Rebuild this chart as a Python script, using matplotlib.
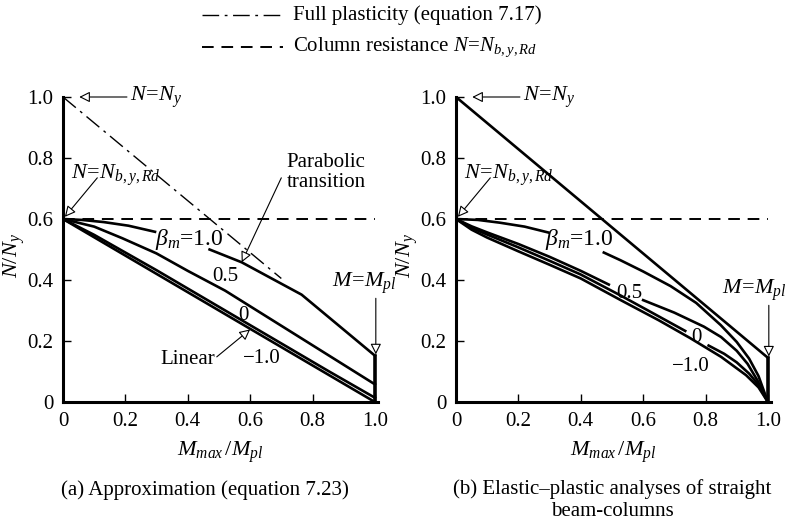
import numpy as np
from matplotlib import pyplot as plt
from matplotlib.lines import Line2D

plt.rcParams['font.family'] = ['Liberation Serif', 'DejaVu Serif']
plt.rcParams['mathtext.fontset'] = 'custom'
plt.rcParams['mathtext.rm'] = 'Liberation Serif'
plt.rcParams['mathtext.it'] = 'Liberation Serif:italic'
plt.rcParams['mathtext.bf'] = 'Liberation Serif:bold'

ticks = [0, 0.2, 0.4, 0.6, 0.8, 1.0]
tick_labels = ['0', '0.2', '0.4', '0.6', '0.8', '1.0']
N_col = 0.6

# (a) approximation, equation 7.23
a_plastic_x = [0, 0.70]
a_plastic_y = [1.0, 0.405]
a_b10_x1 = [0, 0.06, 0.13, 0.21, 0.295]
a_b10_y1 = [0.6, 0.597, 0.59, 0.578, 0.558]
a_b10_x2 = [0.47, 0.573, 0.765, 1.0]
a_b10_y2 = [0.50, 0.458, 0.352, 0.152]
a_b05_x = [0, 0.1, 0.19, 0.3, 0.4, 0.52, 0.75, 1.0]
a_b05_y = [0.6, 0.575, 0.537, 0.487, 0.43, 0.365, 0.218, 0.058]
a_b00_x = [0, 0.1, 0.2, 0.3, 0.5, 0.7, 0.85, 1.0]
a_b00_y = [0.6, 0.548, 0.49, 0.432, 0.312, 0.192, 0.102, 0.014]
a_bm1_x = [0, 0.25, 0.5, 0.75, 1.0]
a_bm1_y = [0.6, 0.45, 0.3, 0.15, 0.0]
a_end = 0.152

# (b) elastic-plastic analyses
b_plastic_x = [0, 1.0]
b_plastic_y = [1.0, 0.145]
b_b10_x1 = [0, 0.07, 0.14, 0.22, 0.295]
b_b10_y1 = [0.6, 0.597, 0.588, 0.575, 0.556]
b_b10_x2 = [0.474, 0.527, 0.6, 0.688, 0.77, 0.849, 0.9, 0.94, 0.97, 1.0]
b_b10_y2 = [0.49, 0.465, 0.428, 0.38, 0.325, 0.252, 0.197, 0.142, 0.085, 0.0]
b_b05_x1 = [0, 0.05, 0.1, 0.2, 0.3, 0.4, 0.49]
b_b05_y1 = [0.6, 0.576, 0.556, 0.518, 0.476, 0.43, 0.385]
b_b05_x2 = [0.60, 0.70, 0.795, 0.85, 0.90, 0.935, 0.967, 1.0]
b_b05_y2 = [0.334, 0.293, 0.247, 0.213, 0.168, 0.125, 0.07, 0.0]
b_b00_x1 = [0, 0.05, 0.1, 0.2, 0.3, 0.4, 0.53, 0.63, 0.735]
b_b00_y1 = [0.6, 0.571, 0.549, 0.507, 0.463, 0.418, 0.348, 0.292, 0.233]
b_b00_x2 = [0.81, 0.86, 0.90, 0.94, 0.97, 1.0]
b_b00_y2 = [0.185, 0.158, 0.13, 0.093, 0.056, 0.0]
b_bm1_x = [0, 0.05, 0.1, 0.2, 0.3, 0.4, 0.53, 0.65, 0.75, 0.85, 0.93, 0.97, 1.0]
b_bm1_y = [0.6, 0.565, 0.539, 0.494, 0.45, 0.405, 0.333, 0.268, 0.21, 0.148, 0.088, 0.048, 0.0]
b_end = 0.145

FS = 15
LW = 1.9
fig = plt.figure(figsize=(7.87, 5.25), dpi=100)
ax_a = fig.add_axes([63 / 787, 123 / 525, 315 / 787, 305 / 525])
ax_b = fig.add_axes([456 / 787, 123 / 525, 315 / 787, 305 / 525])


def style_axes(ax):
    ax.set_xlim(0, 1.01)
    ax.set_ylim(0, 1.0)
    for s in ['top', 'right']:
        ax.spines[s].set_visible(False)
    for s in ['left', 'bottom']:
        ax.spines[s].set_linewidth(2.2)
    ax.set_xticks(ticks)
    ax.set_xticklabels(tick_labels)
    ax.set_yticks(ticks)
    ax.set_yticklabels(tick_labels)
    ax.tick_params(direction='in', length=6, width=1, labelsize=FS, pad=7)
    ax.set_xlabel(r'$M_{max}\,/M_{pl}$', fontsize=FS + 1, labelpad=6)
    ax.set_ylabel(r'$N/N_y$', fontsize=FS + 1)
    ax.yaxis.set_label_coords(-0.115, 0.48)
    ax.axhline(N_col, xmin=0, xmax=1.0 / 1.01, color='black', lw=1.4, dashes=(6, 4))


def arrow(ax, start, tip):
    ax.annotate('', xy=tip, xytext=start, annotation_clip=False,
                arrowprops=dict(arrowstyle='-|>', fc='white', ec='black', lw=0.8,
                                mutation_scale=16, shrinkA=0, shrinkB=0))


def common_notes(ax, end, mx, my):
    ax.text(0.215, 1.0, r'$N\!=\!N_y$', fontsize=FS + 1, va='center', ha='left')
    arrow(ax, (0.205, 1.0), (0.052, 1.0))
    ax.text(0.025, 0.745, r'$N\!=\!N_{b,y,Rd}$', fontsize=FS + 1, va='center', ha='left')
    arrow(ax, (0.11, 0.735), (0.006, 0.607))
    ax.text(mx, my, r'$M\!=\!M_{pl}$', fontsize=FS + 1, va='center', ha='center')
    arrow(ax, (1.003, my - 0.05), (1.003, end + 0.004))
    ax.plot([1.0, 1.0], [0, end], color='black', lw=2.6, clip_on=False)


# (a)
style_axes(ax_a)
ax_a.plot(a_plastic_x, a_plastic_y, color='black', lw=1.0, dashes=(12, 4, 2, 4))
ax_a.plot(a_b10_x1, a_b10_y1, color='black', lw=LW)
ax_a.plot(a_b10_x2, a_b10_y2, color='black', lw=LW)
ax_a.plot(a_b05_x, a_b05_y, color='black', lw=LW)
ax_a.plot(a_b00_x, a_b00_y, color='black', lw=LW)
ax_a.plot(a_bm1_x, a_bm1_y, color='black', lw=LW)
ax_a.text(0.405, 0.532, r'$\beta_m$=1.0', fontsize=FS + 2, va='center', ha='center')
ax_a.text(0.522, 0.413, '0.5', fontsize=FS, va='center', ha='center')
ax_a.text(0.58, 0.285, '0', fontsize=FS, va='center', ha='center')
ax_a.text(0.638, 0.144, '\u22121.0', fontsize=FS, va='center', ha='center')
ax_a.text(0.40, 0.138, 'Linear', fontsize=FS, va='center', ha='center')
arrow(ax_a, (0.493, 0.148), (0.60, 0.238))
ax_a.text(0.716, 0.752, 'Parabolic\ntransition', fontsize=FS, va='center', ha='left',
          linespacing=1.05)
arrow(ax_a, (0.70, 0.735), (0.573, 0.458))
common_notes(ax_a, a_end, 0.965, 0.39)

# (b)
style_axes(ax_b)
ax_b.plot(b_plastic_x, b_plastic_y, color='black', lw=LW)
ax_b.plot(b_b10_x1, b_b10_y1, color='black', lw=LW)
ax_b.plot(b_b10_x2, b_b10_y2, color='black', lw=LW)
ax_b.plot(b_b05_x1, b_b05_y1, color='black', lw=LW)
ax_b.plot(b_b05_x2, b_b05_y2, color='black', lw=LW)
ax_b.plot(b_b00_x1, b_b00_y1, color='black', lw=LW)
ax_b.plot(b_b00_x2, b_b00_y2, color='black', lw=LW)
ax_b.plot(b_bm1_x, b_bm1_y, color='black', lw=LW)
ax_b.text(0.395, 0.534, r'$\beta_m$=1.0', fontsize=FS + 2, va='center', ha='center')
ax_b.text(0.555, 0.357, '0.5', fontsize=FS, va='center', ha='center')
ax_b.text(0.772, 0.213, '0', fontsize=FS, va='center', ha='center')
ax_b.text(0.752, 0.115, '\u22121.0', fontsize=FS, va='center', ha='center')
common_notes(ax_b, b_end, 0.958, 0.367)

# legend on top
fig.add_artist(Line2D([202 / 787, 283 / 787], [510 / 525, 510 / 525], color='black',
                      lw=1.0, dashes=(12, 4, 2, 4)))
fig.add_artist(Line2D([202 / 787, 283 / 787], [478 / 525, 478 / 525], color='black',
                      lw=1.4, dashes=(6, 4)))
fig.text(293 / 787, 510 / 525, 'Full plasticity (equation 7.17)', fontsize=FS, va='center')
fig.text(293 / 787, 478 / 525, r'Column resistance $N\!=\!N_{b,y,Rd}$', fontsize=FS,
         va='center')

fig.text(205 / 787, 35 / 525, '(a) Approximation (equation 7.23)', fontsize=FS,
         ha='center', va='center')
fig.text(612 / 787, 46 / 525, '(b) Elastic\u2013plastic analyses of straight\nbeam-columns',
         fontsize=FS, ha='center', va='top', linespacing=1.2)

plt.savefig('out.png', dpi=100)
plt.close()
